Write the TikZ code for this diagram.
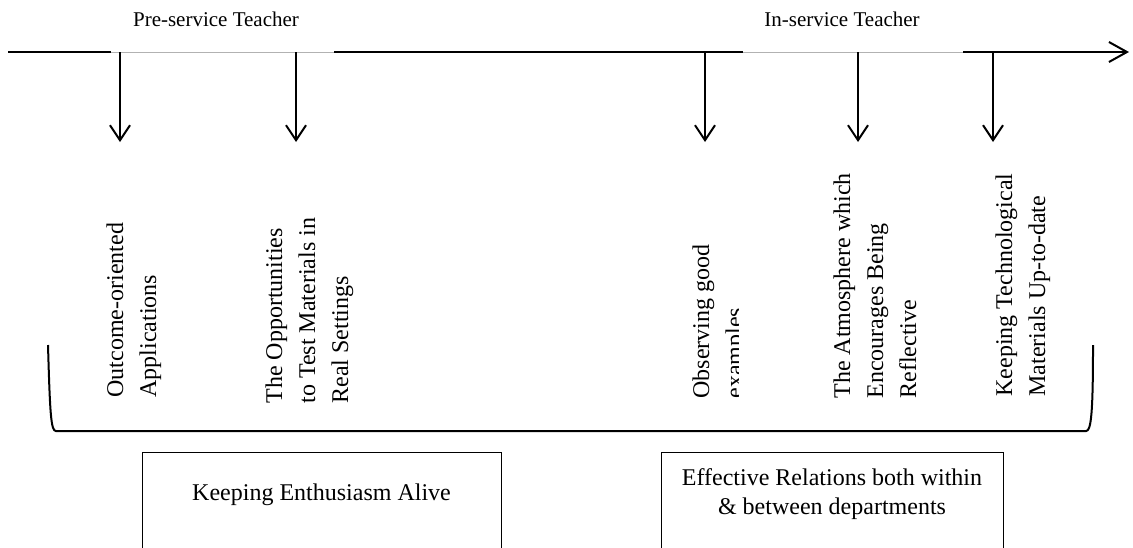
\documentclass[tikz,border=0pt]{standalone}
\usepackage{fontspec}
\setmainfont{Liberation Serif}
\usetikzlibrary{calc}
\usetikzlibrary{arrows.meta}

\tikzset{
	pole/.style={line width=1pt},
	faint/.style={line width=0.5pt, black!30},
	drop/.style={line width=1pt, -{Straight Barb[length=7.5pt,width=10pt,line width=1pt]}},
	heading/.style={inner sep=0pt, font=\fontsize{10.5}{12}\selectfont},
	factor/.style={rotate=90, anchor=north west, align=left, inner sep=0pt, font=\fontsize{12}{16.5}\selectfont},
	panel/.style={draw, line width=0.5pt, anchor=north, minimum height=200pt},
	paneltext/.style={anchor=north, align=center, inner sep=0pt, font=\fontsize{12}{14.5}\selectfont}
}

\begin{document}
\begin{tikzpicture}[x=0.5pt, y=-0.5pt]
	\useasboundingbox (0,0) rectangle (1133,547);
	\clip (0,0) rectangle (1133,547);
	% the time line
	\coordinate (t0) at (8,52);
	\coordinate (p1) at (111,52);
	\coordinate (p2) at (334,52);
	\coordinate (q1) at (743,52);
	\coordinate (q2) at (963,52);
	\coordinate (tend) at (1129,52);
	\draw[pole] (t0) -- (p1);
	\draw[faint] (p1) -- (p2);
	\draw[pole] (p2) -- (q1);
	\draw[faint] (q1) -- (q2);
	\draw[pole, -{Straight Barb[length=9pt,width=10pt,line width=1pt]}] (q2) -- (tend);
	\node[heading] (pre) at (216,19) {Pre-service Teacher};
	\node[heading] (ins) at (842,19) {In-service Teacher};
	% drops
	\coordinate (s) at (120,52);
		\coordinate (sa) at ($(s) + (0,90)$);
		\draw[drop] (s) -- (sa);
	\coordinate (s) at (296,52);
		\coordinate (sb) at ($(s) + (0,90)$);
		\draw[drop] (s) -- (sb);
	\coordinate (s) at (705,52);
		\coordinate (sc) at ($(s) + (0,90)$);
		\draw[drop] (s) -- (sc);
	\coordinate (s) at (858,52);
		\coordinate (sd) at ($(s) + (0,90)$);
		\draw[drop] (s) -- (sd);
	\coordinate (s) at (993,52);
		\coordinate (se) at ($(s) + (0,90)$);
		\draw[drop] (s) -- (se);
	% factors
	\node[factor] (outcome) at (106,398) {Outcome-oriented\\Applications};
	\node[factor] (test) at (265,404) {The Opportunities\\to Test Materials in\\Real Settings};
	\begin{scope}
		\clip (650,150) rectangle (738,420);
		\node[factor] (observe) at (692,399) {Observing good\\examples};
	\end{scope}
	\node[factor] (atmos) at (833,399) {The Atmosphere which\\Encourages Being\\Reflective};
	\node[factor] (techno) at (995,397) {Keeping Technological\\Materials Up-to-date};
	% brace
	\coordinate (bl) at (48,345);
	\coordinate (br) at (1093,345);
	\draw[pole] (bl) .. controls ($(bl) + (2,70)$) and ($(bl) + (3,86)$) .. ($(bl) + (8,86)$)
		-- ($(br) + (-7,86)$) .. controls ($(br) + (-2,86)$) and ($(br) + (0,70)$) .. (br);
	% panels
	\node[panel, minimum width=179.5pt] (enthbox) at (321.5,452) {};
		\node[paneltext] (enth) at ($(enthbox.north) + (0,31)$) {Keeping Enthusiasm Alive};
	\node[panel, minimum width=171pt] (relbox) at (832,452) {};
		\node[paneltext] (rel) at ($(relbox.north) + (0,16)$) {Effective Relations both within\\\& between departments};
\end{tikzpicture}
\end{document}
